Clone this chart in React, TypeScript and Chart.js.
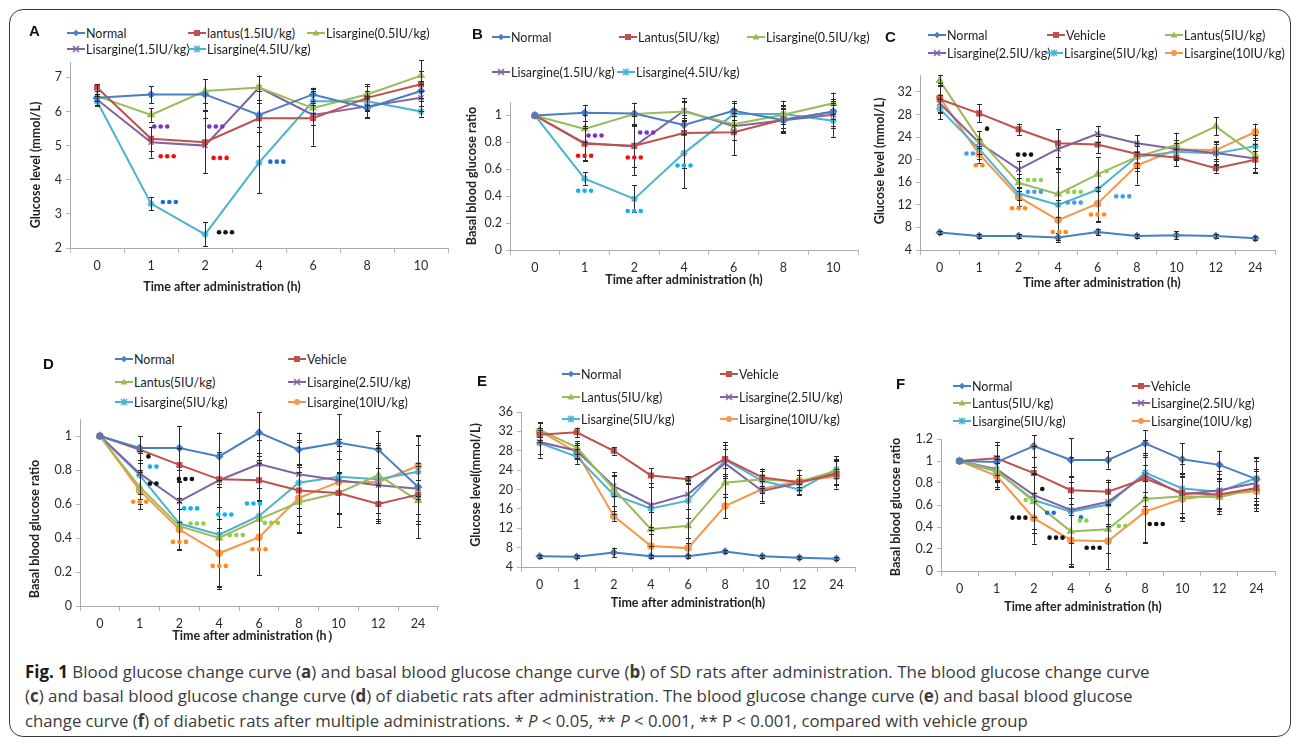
import React, { useEffect, useLayoutEffect, useRef } from 'react';
import { Chart, registerables } from 'chart.js';

Chart.register(...registerables);
Chart.defaults.font.family = 'Lato, "Open Sans", sans-serif';

// ---------- categories & ticks ----------
const CAT_SD = ['0', '1', '2', '4', '6', '8', '10'];
const CAT_DM = ['0', '1', '2', '4', '6', '8', '10', '12', '24'];
const TICKS_A = [2, 3, 4, 5, 6, 7];
const TICKS_RATIO = [0, 0.2, 0.4, 0.6, 0.8, 1];
const TICKS_C = [4, 8, 12, 16, 20, 24, 28, 32];
const TICKS_E = [4, 8, 12, 16, 20, 24, 28, 32, 36];
const TICKS_F = [0, 0.2, 0.4, 0.6, 0.8, 1, 1.2];

// ---------- Panel A (SD rats, glucose) ----------
const A_NAMES = ['Normal', 'lantus(1.5IU/kg)', 'Lisargine(0.5IU/kg)', 'Lisargine(1.5IU/kg)', 'Lisargine(4.5IU/kg)'];
const A_NORMAL = [6.4, 6.5, 6.5, 5.9, 6.5, 6.1, 6.6];
const A_LANTUS = [6.7, 5.2, 5.1, 5.8, 5.8, 6.4, 6.8];
const A_L05 = [6.45, 5.9, 6.6, 6.7, 6.1, 6.5, 7.05];
const A_L15 = [6.35, 5.1, 5.0, 6.7, 5.9, 6.15, 6.4];
const A_L45 = [6.3, 3.3, 2.4, 4.5, 6.3, 6.3, 6.0];
const A_NORMAL_ERR = [0.2, 0.25, 0.45, 0.35, 0.2, 0.3, 0.3];
const A_LANTUS_ERR = [0.1, 0.35, 0.9, 0.8, 0.8, 0.35, 0.4];
const A_L05_ERR = [0.15, 0.2, 0.35, 0.35, 0.15, 0.3, 0.45];
const A_L15_ERR = [0.15, 0.45, 0.8, 0.35, 0.3, 0.3, 0.4];
const A_L45_ERR = [0.15, 0.2, 0.35, 0.9, 0.35, 0.3, 0.15];

// ---------- Panel B (SD rats, ratio) ----------
const B_NAMES = ['Normal', 'Lantus(5IU/kg)', 'Lisargine(0.5IU/kg)', 'Lisargine(1.5IU/kg)', 'Lisargine(4.5IU/kg)'];
const B_NORMAL = [1.0, 1.02, 1.015, 0.93, 1.035, 0.965, 1.03];
const B_LANTUS = [1.0, 0.79, 0.775, 0.87, 0.875, 0.97, 1.025];
const B_L05 = [1.0, 0.9, 1.01, 1.03, 0.935, 1.005, 1.09];
const B_L15 = [1.0, 0.795, 0.77, 1.035, 0.92, 0.965, 1.005];
const B_L45 = [1.0, 0.53, 0.38, 0.72, 1.01, 1.01, 0.96];
const B_NORMAL_ERR = [0, 0.06, 0.08, 0.07, 0.07, 0.08, 0.06];
const B_LANTUS_ERR = [0, 0.12, 0.22, 0.26, 0.17, 0.1, 0.1];
const B_L05_ERR = [0, 0.1, 0.08, 0.07, 0.06, 0.07, 0.08];
const B_L15_ERR = [0, 0.13, 0.15, 0.07, 0.1, 0.09, 0.1];
const B_L45_ERR = [0, 0.05, 0.1, 0.26, 0.08, 0.1, 0.12];

// ---------- diabetic groups ----------
const DM_NAMES = ['Normal', 'Vehicle', 'Lantus(5IU/kg)', 'Lisargine(2.5IU/kg)', 'Lisargine(5IU/kg)', 'Lisargine(10IU/kg)'];

// Panel C
const C_NORMAL = [7.1, 6.5, 6.5, 6.2, 7.2, 6.5, 6.6, 6.5, 6.1];
const C_VEHICLE = [30.7, 28.2, 25.4, 22.9, 22.7, 21.0, 20.4, 18.5, 20.0];
const C_LANTUS = [34.0, 23.6, 15.9, 13.9, 17.4, 20.5, 22.6, 25.9, 20.8];
const C_L25 = [30.0, 23.0, 18.3, 21.9, 24.6, 22.9, 21.9, 21.2, 20.2];
const C_L5 = [29.0, 21.9, 14.0, 12.0, 14.7, 20.5, 21.4, 21.1, 22.4];
const C_L10 = [31.0, 21.0, 13.4, 9.3, 12.2, 19.0, 21.8, 21.7, 24.9];
const C_NORMAL_ERR = [0.3, 0.3, 0.3, 0.8, 0.6, 0.3, 0.7, 0.3, 0.3];
const C_VEHICLE_ERR = [2.5, 1.6, 1.0, 2.5, 1.5, 1.5, 1.5, 0.8, 1.5];
const C_LANTUS_ERR = [1.0, 1.5, 1.5, 4.0, 3.0, 2.0, 2.2, 1.6, 3.0];
const C_L25_ERR = [1.5, 2.0, 1.5, 3.5, 1.4, 1.5, 1.5, 1.5, 2.5];
const C_L5_ERR = [1.8, 1.8, 1.2, 6.5, 5.7, 2.5, 1.5, 2.0, 2.0];
const C_L10_ERR = [2.5, 1.5, 1.6, 3.5, 3.0, 3.4, 1.6, 1.6, 1.5];

// Panel D
const D_NORMAL = [1.0, 0.93, 0.93, 0.88, 1.02, 0.92, 0.96, 0.92, 0.7];
const D_VEHICLE = [1.0, 0.92, 0.83, 0.745, 0.74, 0.68, 0.665, 0.6, 0.655];
const D_LANTUS = [1.0, 0.7, 0.47, 0.4, 0.51, 0.61, 0.665, 0.77, 0.62];
const D_L25 = [1.0, 0.78, 0.615, 0.74, 0.835, 0.775, 0.74, 0.71, 0.69];
const D_L5 = [1.0, 0.77, 0.485, 0.42, 0.53, 0.725, 0.76, 0.745, 0.79];
const D_L10 = [1.0, 0.68, 0.45, 0.31, 0.405, 0.635, 0.73, 0.73, 0.825];
const D_NORMAL_ERR = [0, 0.07, 0.13, 0.14, 0.12, 0.1, 0.17, 0.11, 0.3];
const D_VEHICLE_ERR = [0, 0.08, 0.1, 0.16, 0.12, 0.15, 0.2, 0.11, 0.17];
const D_LANTUS_ERR = [0, 0.1, 0.14, 0.3, 0.33, 0.18, 0.12, 0.26, 0.12];
const D_L25_ERR = [0, 0.12, 0.12, 0.28, 0.14, 0.2, 0.2, 0.22, 0.15];
const D_L5_ERR = [0, 0.14, 0.15, 0.3, 0.35, 0.24, 0.22, 0.2, 0.16];
const D_L10_ERR = [0, 0.11, 0.12, 0.2, 0.22, 0.2, 0.18, 0.23, 0.18];

// Panel E
const E_NORMAL = [6.2, 6.1, 7.0, 6.2, 6.2, 7.2, 6.2, 5.9, 5.7];
const E_VEHICLE = [31.3, 31.8, 28.0, 22.9, 22.1, 26.3, 22.5, 21.5, 23.2];
const E_LANTUS = [32.3, 28.7, 20.1, 11.8, 12.5, 21.4, 22.1, 21.6, 23.9];
const E_L25 = [29.8, 28.0, 20.7, 16.8, 19.0, 25.4, 19.7, 21.4, 23.4];
const E_L5 = [29.6, 26.8, 18.9, 16.1, 17.7, 26.1, 21.8, 20.0, 24.2];
const E_L10 = [32.1, 27.7, 14.5, 8.35, 7.9, 16.6, 20.1, 21.8, 22.7];
const E_NORMAL_ERR = [0.3, 0.3, 1.0, 0.3, 0.3, 0.3, 0.3, 0.3, 0.3];
const E_VEHICLE_ERR = [1.5, 1.0, 0.8, 1.5, 0.7, 3.5, 1.8, 1.5, 3.0];
const E_LANTUS_ERR = [1.5, 1.3, 3.5, 3.5, 3.5, 3.0, 1.8, 2.5, 3.0];
const E_L25_ERR = [2.5, 1.5, 2.0, 4.5, 3.0, 3.0, 2.0, 1.5, 2.5];
const E_L5_ERR = [3.0, 1.5, 4.0, 4.5, 3.5, 3.0, 2.5, 1.2, 1.8];
const E_L10_ERR = [1.8, 1.5, 1.0, 2.5, 2.0, 2.5, 2.8, 1.2, 1.5];

// Panel F
const F_NORMAL = [1.0, 0.99, 1.135, 1.01, 1.01, 1.16, 1.015, 0.965, 0.835];
const F_VEHICLE = [1.0, 1.025, 0.89, 0.735, 0.72, 0.84, 0.71, 0.695, 0.755];
const F_LANTUS = [1.0, 0.915, 0.63, 0.36, 0.38, 0.655, 0.68, 0.67, 0.75];
const F_L25 = [1.0, 0.925, 0.69, 0.555, 0.63, 0.87, 0.695, 0.735, 0.8];
const F_L5 = [1.0, 0.905, 0.645, 0.54, 0.605, 0.895, 0.75, 0.72, 0.845];
const F_L10 = [1.0, 0.865, 0.48, 0.28, 0.27, 0.54, 0.655, 0.695, 0.725];
const F_NORMAL_ERR = [0, 0.16, 0.1, 0.2, 0.08, 0.12, 0.15, 0.13, 0.2];
const F_VEHICLE_ERR = [0, 0.15, 0.25, 0.13, 0.11, 0.12, 0.18, 0.12, 0.15];
const F_LANTUS_ERR = [0, 0.1, 0.25, 0.3, 0.22, 0.4, 0.2, 0.15, 0.18];
const F_L25_ERR = [0, 0.12, 0.2, 0.3, 0.2, 0.2, 0.2, 0.17, 0.2];
const F_L5_ERR = [0, 0.14, 0.3, 0.5, 0.2, 0.3, 0.22, 0.16, 0.18];
const F_L10_ERR = [0, 0.12, 0.23, 0.23, 0.25, 0.28, 0.2, 0.15, 0.18];

// ---------- significance marks (category index, value, count, colour key) ----------
const A_MARKS = [
  [1.18, 5.56, 3, 'purple'], [2.2, 5.56, 3, 'purple'], [1.3, 4.69, 3, 'red'], [2.28, 4.64, 3, 'red'],
  [3.33, 4.53, 3, 'blue'], [1.34, 3.35, 3, 'blue'], [2.38, 2.46, 3, 'black'],
];
const B_MARKS = [
  [1.21, 0.851, 3, 'purple'], [2.25, 0.873, 3, 'purple'], [1.0, 0.7, 3, 'red'], [2.0, 0.687, 3, 'red'],
  [3.0, 0.628, 3, 'cyan'], [1.0, 0.44, 3, 'cyan'], [2.0, 0.29, 3, 'cyan'],
];
const C_MARKS = [
  [0.76, 21.1, 2, 'lblue'], [1.2, 25.5, 1, 'black'], [1.0, 19.0, 2, 'orange'], [2.15, 20.9, 3, 'black'],
  [2.4, 16.4, 3, 'green'], [2.4, 14.3, 3, 'lblue'], [2.0, 11.4, 3, 'orange'], [3.41, 14.3, 3, 'green'],
  [3.41, 12.4, 3, 'lblue'], [3.03, 7.2, 3, 'orange'], [4.23, 18.0, 1, 'green'], [4.0, 10.3, 3, 'orange'],
  [4.64, 13.5, 3, 'lblue'],
];
const D_MARKS = [
  [1.22, 0.88, 1, 'black'], [1.34, 0.82, 2, 'cyan'], [1.34, 0.72, 2, 'black'], [1.0, 0.613, 3, 'orange'],
  [2.15, 0.747, 3, 'black'], [2.28, 0.574, 3, 'cyan'], [2.44, 0.485, 3, 'green'], [2.0, 0.377, 3, 'orange'],
  [3.14, 0.538, 3, 'cyan'], [3.43, 0.417, 3, 'green'], [3.0, 0.236, 3, 'orange'], [3.86, 0.603, 3, 'cyan'],
  [4.31, 0.489, 3, 'green'], [4.0, 0.334, 3, 'orange'],
];
const F_MARKS = [
  [2.23, 0.745, 1, 'black'], [1.87, 0.645, 2, 'green'], [1.6, 0.485, 3, 'black'], [2.45, 0.53, 2, 'blue'],
  [2.6, 0.303, 3, 'black'], [3.27, 0.488, 1, 'blue'], [3.33, 0.458, 2, 'green'], [3.6, 0.212, 3, 'black'],
  [4.38, 0.409, 2, 'green'], [5.3, 0.427, 3, 'black'],
];

// ---------- styles ----------
const MARK_COLORS: Record<string, string> = {
  purple: '#7a35b8', red: '#ee1111', blue: '#1a6fd0', black: '#111111', cyan: '#12b0f0',
  lblue: '#4a9be8', orange: '#ff8a1e', green: '#8fd04a',
};
const SERIES_STYLE: Record<string, { color: string; point: string; r: number }> = {
  normal: { color: '#4a7ec2', point: 'rectRot', r: 3.2 },
  red: { color: '#c0504d', point: 'rect', r: 3.2 },
  green: { color: '#9bbb59', point: 'triangle', r: 3.4 },
  purple: { color: '#8064a2', point: 'crossRot', r: 3.5 },
  cyan: { color: '#4bb3cf', point: 'star', r: 3.5 },
  orange: { color: '#f79646', point: 'circle', r: 3 },
};
const KEYS_SD = ['normal', 'red', 'green', 'purple', 'cyan'];
const KEYS_DM = ['normal', 'red', 'green', 'purple', 'cyan', 'orange'];

type Panel = {
  letter: string; letterPos: [number, number];
  plot: { l: number; t: number; r: number; b: number };
  labels: string[]; names: string[]; keys: string[];
  data: number[][]; errs: number[][];
  yMin: number; yMax: number; yTicks: number[];
  xTitle: string; yTitle: string; xTitlePos: [number, number]; yTitlePos: [number, number];
  marks: any[];
  legend: { y: number; items: [number, number][] }[];
};

const PANELS: Panel[] = [
  {
    letter: 'A', letterPos: [29, 32], plot: { l: 70, t: 62, r: 448, b: 248 },
    labels: CAT_SD, names: A_NAMES, keys: KEYS_SD,
    data: [A_NORMAL, A_LANTUS, A_L05, A_L15, A_L45],
    errs: [A_NORMAL_ERR, A_LANTUS_ERR, A_L05_ERR, A_L15_ERR, A_L45_ERR],
    yMin: 2, yMax: 7.45, yTicks: TICKS_A,
    xTitle: 'Time after administration (h)', yTitle: 'Glucose level (mmol/L)',
    xTitlePos: [222, 287], yTitlePos: [36, 165], marks: A_MARKS,
    legend: [{ y: 33, items: [[67, 0], [188, 1], [307, 2]] }, { y: 49, items: [[67, 3], [188, 4]] }],
  },
  {
    letter: 'B', letterPos: [472, 35], plot: { l: 510, t: 102, r: 858, b: 250 },
    labels: CAT_SD, names: B_NAMES, keys: KEYS_SD,
    data: [B_NORMAL, B_LANTUS, B_L05, B_L15, B_L45],
    errs: [B_NORMAL_ERR, B_LANTUS_ERR, B_L05_ERR, B_L15_ERR, B_L45_ERR],
    yMin: 0, yMax: 1.1, yTicks: TICKS_RATIO,
    xTitle: 'Time after administration (h)', yTitle: 'Basal blood glucose ratio',
    xTitlePos: [684, 280], yTitlePos: [472, 176], marks: B_MARKS,
    legend: [{ y: 37, items: [[492, 0], [619, 1], [747, 2]] }, { y: 72, items: [[492, 3], [617, 4]] }],
  },
  {
    letter: 'C', letterPos: [885, 38], plot: { l: 920, t: 75, r: 1275, b: 250 },
    labels: CAT_DM, names: DM_NAMES, keys: KEYS_DM,
    data: [C_NORMAL, C_VEHICLE, C_LANTUS, C_L25, C_L5, C_L10],
    errs: [C_NORMAL_ERR, C_VEHICLE_ERR, C_LANTUS_ERR, C_L25_ERR, C_L5_ERR, C_L10_ERR],
    yMin: 4, yMax: 35, yTicks: TICKS_C,
    xTitle: 'Time after administration (h)', yTitle: 'Glucose level (mmol/L)',
    xTitlePos: [1102, 283], yTitlePos: [880, 161], marks: C_MARKS,
    legend: [{ y: 35, items: [[928, 0], [1047, 1], [1165, 2]] }, { y: 53, items: [[928, 3], [1045, 4], [1165, 5]] }],
  },
  {
    letter: 'D', letterPos: [43, 365], plot: { l: 80, t: 419, r: 438, b: 606 },
    labels: CAT_DM, names: DM_NAMES, keys: KEYS_DM,
    data: [D_NORMAL, D_VEHICLE, D_LANTUS, D_L25, D_L5, D_L10],
    errs: [D_NORMAL_ERR, D_VEHICLE_ERR, D_LANTUS_ERR, D_L25_ERR, D_L5_ERR, D_L10_ERR],
    yMin: 0, yMax: 1.1, yTicks: TICKS_RATIO,
    xTitle: 'Time after administration (h\uFF09', yTitle: 'Basal blood glucose ratio',
    xTitlePos: [256, 636], yTitlePos: [35, 529], marks: D_MARKS,
    legend: [
      { y: 359, items: [[115, 0], [288, 1]] }, { y: 382, items: [[115, 2], [288, 3]] },
      { y: 402, items: [[115, 4], [288, 5]] },
    ],
  },
  {
    letter: 'E', letterPos: [477, 382], plot: { l: 521, t: 412, r: 855, b: 567 },
    labels: CAT_DM, names: DM_NAMES, keys: KEYS_DM,
    data: [E_NORMAL, E_VEHICLE, E_LANTUS, E_L25, E_L5, E_L10],
    errs: [E_NORMAL_ERR, E_VEHICLE_ERR, E_LANTUS_ERR, E_L25_ERR, E_L5_ERR, E_L10_ERR],
    yMin: 4, yMax: 36, yTicks: TICKS_E,
    xTitle: 'Time after administration(h)', yTitle: 'Glucose level(mmol/L)',
    xTitlePos: [688, 603], yTitlePos: [476, 485], marks: [],
    legend: [
      { y: 374, items: [[562, 0], [720, 1]] }, { y: 397, items: [[562, 2], [720, 3]] },
      { y: 419, items: [[562, 4], [720, 5]] },
    ],
  },
  {
    letter: 'F', letterPos: [896, 385], plot: { l: 941, t: 439, r: 1275, b: 571 },
    labels: CAT_DM, names: DM_NAMES, keys: KEYS_DM,
    data: [F_NORMAL, F_VEHICLE, F_LANTUS, F_L25, F_L5, F_L10],
    errs: [F_NORMAL_ERR, F_VEHICLE_ERR, F_LANTUS_ERR, F_L25_ERR, F_L5_ERR, F_L10_ERR],
    yMin: 0, yMax: 1.2, yTicks: TICKS_F,
    xTitle: 'Time after administration (h)', yTitle: 'Basal blood glucose ratio',
    xTitlePos: [1083, 607], yTitlePos: [896, 507], marks: F_MARKS,
    legend: [
      { y: 386, items: [[953, 0], [1132, 1]] }, { y: 403, items: [[953, 2], [1132, 3]] },
      { y: 421, items: [[953, 4], [1132, 5]] },
    ],
  },
];

// ---------- plugins ----------
const errorBarPlugin = {
  id: 'errorBars',
  afterDatasetsDraw(chart: any) {
    const { ctx } = chart;
    const ys = chart.scales.y;
    ctx.save();
    ctx.strokeStyle = '#2a2a2a';
    ctx.lineWidth = 1;
    chart.data.datasets.forEach((ds: any, di: number) => {
      const err = ds.errorBars;
      if (!err) return;
      const meta = chart.getDatasetMeta(di);
      meta.data.forEach((pt: any, i: number) => {
        const e = err[i];
        if (!e) return;
        const v = ds.data[i];
        const x = Math.round(pt.x) + 0.5;
        const y1 = ys.getPixelForValue(v + e);
        const y2 = ys.getPixelForValue(v - e);
        ctx.beginPath();
        ctx.moveTo(x, y1); ctx.lineTo(x, y2);
        ctx.moveTo(x - 2.5, Math.round(y1) + 0.5); ctx.lineTo(x + 2.5, Math.round(y1) + 0.5);
        ctx.moveTo(x - 2.5, Math.round(y2) + 0.5); ctx.lineTo(x + 2.5, Math.round(y2) + 0.5);
        ctx.stroke();
      });
    });
    ctx.restore();
  },
};

const marksPlugin = {
  id: 'sigMarks',
  afterDatasetsDraw(chart: any, _args: any, opts: any) {
    const { ctx } = chart;
    const xs = chart.scales.x, ys = chart.scales.y;
    ctx.save();
    (opts.items || []).forEach((m: any[]) => {
      const [i, v, n, c] = m;
      const cx = xs.getPixelForValue(i);
      const cy = ys.getPixelForValue(v);
      ctx.fillStyle = MARK_COLORS[c];
      for (let k = 0; k < n; k++) {
        ctx.beginPath();
        ctx.arc(cx + (k - (n - 1) / 2) * 6.5, cy, 2.3, 0, Math.PI * 2);
        ctx.fill();
      }
    });
    ctx.restore();
  },
};

const titlesPlugin = {
  id: 'axisTitles',
  afterDraw(chart: any, _args: any, opts: any) {
    const { ctx } = chart;
    ctx.save();
    ctx.font = 'bold 12.5px Lato, "Open Sans", sans-serif';
    ctx.fillStyle = '#222';
    ctx.textAlign = 'center';
    ctx.textBaseline = 'middle';
    ctx.fillText(opts.x, opts.xPos[0], opts.xPos[1]);
    ctx.translate(opts.yPos[0], opts.yPos[1]);
    ctx.rotate(-Math.PI / 2);
    ctx.fillText(opts.y, 0, 0);
    ctx.restore();
  },
};

// ---------- components ----------
function ChartPanel({ p }: { p: Panel }) {
  const ref = useRef<HTMLCanvasElement>(null);
  const left = p.plot.l - 60, top = p.plot.t - 14;
  const width = p.plot.r + 6 - left, height = p.plot.b + 52 - top;
  useEffect(() => {
    const datasets = p.data.map((d, i) => {
      const st = SERIES_STYLE[p.keys[i]];
      return {
        label: p.names[i], data: d, errorBars: p.errs[i],
        borderColor: st.color, backgroundColor: st.color, borderWidth: 2,
        pointStyle: st.point, pointRadius: st.r, pointBorderWidth: 1.5,
        pointBorderColor: st.color, pointBackgroundColor: st.color, tension: 0,
      };
    });
    const chart = new Chart(ref.current!, {
      type: 'line',
      data: { labels: p.labels, datasets: datasets as any },
      plugins: [errorBarPlugin, marksPlugin, titlesPlugin],
      options: {
        responsive: false, animation: false, events: [],
        layout: { padding: { left: 0, top: 14, right: 6, bottom: 0 } },
        scales: {
          x: {
            type: 'category', offset: true,
            grid: { display: true, drawOnChartArea: false, drawTicks: true, tickLength: 5, color: '#b5b5b5', offset: true },
            border: { display: true, color: '#aaaaaa', width: 1 },
            ticks: { color: '#2b2b2b', font: { size: 12.5 }, padding: 5, maxRotation: 0, autoSkip: false },
            afterFit: (s: any) => { s.height = 52; },
          },
          y: {
            min: p.yMin, max: p.yMax,
            grid: { display: true, drawOnChartArea: false, drawTicks: true, tickLength: 4, color: '#b5b5b5' },
            border: { display: true, color: '#aaaaaa', width: 1 },
            ticks: { color: '#2b2b2b', font: { size: 12.5 }, padding: 4, callback: (v: any) => String(v) },
            afterBuildTicks: (s: any) => { s.ticks = p.yTicks.map((v) => ({ value: v })); },
            afterFit: (s: any) => { s.width = 60; },
          },
        },
        plugins: {
          legend: { display: false }, tooltip: { enabled: false },
          sigMarks: { items: p.marks },
          axisTitles: {
            x: p.xTitle, y: p.yTitle,
            xPos: [p.xTitlePos[0] - left, p.xTitlePos[1] - top],
            yPos: [p.yTitlePos[0] - left, p.yTitlePos[1] - top],
          },
        } as any,
      },
    });
    return () => chart.destroy();
  }, []);
  return (
    <canvas ref={ref} width={width} height={height}
      style={{ position: 'absolute', left, top, width, height }} />
  );
}

function Marker({ kind, color }: { kind: string; color: string }) {
  const c = 9, m = 5;
  let shape: any = null;
  if (kind === 'rectRot') shape = <polygon points={`${c},${m - 3.2} ${c + 3.2},${m} ${c},${m + 3.2} ${c - 3.2},${m}`} fill={color} />;
  else if (kind === 'rect') shape = <rect x={c - 3} y={m - 3} width={6} height={6} fill={color} />;
  else if (kind === 'triangle') shape = <polygon points={`${c},${m - 3.4} ${c + 3.4},${m + 2.6} ${c - 3.4},${m + 2.6}`} fill={color} />;
  else if (kind === 'crossRot') shape = <path d={`M${c - 3} ${m - 3}L${c + 3} ${m + 3}M${c - 3} ${m + 3}L${c + 3} ${m - 3}`} stroke={color} strokeWidth={1.5} />;
  else if (kind === 'star') shape = <path d={`M${c - 3} ${m - 3}L${c + 3} ${m + 3}M${c - 3} ${m + 3}L${c + 3} ${m - 3}M${c} ${m - 3.5}L${c} ${m + 3.5}`} stroke={color} strokeWidth={1.5} />;
  else shape = <circle cx={c} cy={m} r={3} fill={color} />;
  return (
    <svg width={18} height={10} style={{ display: 'block', flex: 'none' }}>
      <line x1={0} y1={m} x2={18} y2={m} stroke={color} strokeWidth={2} />
      {shape}
    </svg>
  );
}

function Legend({ p }: { p: Panel }) {
  return (
    <>
      {p.legend.map((row, ri) =>
        row.items.map(([x, si]) => {
          const st = SERIES_STYLE[p.keys[si]];
          return (
            <div key={`${ri}-${si}`} style={{
              position: 'absolute', left: x, top: row.y - 8, height: 16, display: 'flex',
              alignItems: 'center', whiteSpace: 'nowrap', font: '12.5px Lato, "Open Sans", sans-serif', color: '#1e1e1e',
            }}>
              <Marker kind={st.point} color={st.color} />
              <span style={{ marginLeft: 1 }}>{p.names[si]}</span>
            </div>
          );
        })
      )}
      <div style={{
        position: 'absolute', left: p.letterPos[0], top: p.letterPos[1] - 10, height: 20, lineHeight: '20px',
        font: 'bold 15px "Liberation Sans", Arial, sans-serif', color: '#111',
      }}>{p.letter}</div>
    </>
  );
}

const CAPTION_WIDTHS = [1125, 1108, 1003];
const CAPTION_Y = [671, 695, 720];

function Caption() {
  const r0 = useRef<HTMLSpanElement>(null);
  const r1 = useRef<HTMLSpanElement>(null);
  const r2 = useRef<HTMLSpanElement>(null);
  const refs = [r0, r1, r2];
  useLayoutEffect(() => {
    const fit = () => refs.forEach((r, i) => {
      const el = r.current;
      if (!el) return;
      const w = el.offsetWidth;
      if (w > 0) el.style.transform = `scaleX(${CAPTION_WIDTHS[i] / w})`;
    });
    fit();
    (document as any).fonts?.ready?.then(fit);
  }, []);
  const lineStyle = (i: number): React.CSSProperties => ({
    position: 'absolute', left: 25, top: CAPTION_Y[i] - 11, height: 22, lineHeight: '22px',
    whiteSpace: 'nowrap', display: 'inline-block', transformOrigin: '0 50%',
    font: '17px "Open Sans", "Noto Sans", sans-serif', color: '#3a3a3a',
  });
  return (
    <>
      <span ref={r0} style={lineStyle(0)}>
        <b style={{ color: '#1a1a1a' }}>Fig. 1</b> Blood glucose change curve (<b>a</b>) and basal blood glucose change curve (<b>b</b>) of SD rats after administration. The blood glucose change curve
      </span>
      <span ref={r1} style={lineStyle(1)}>
        (<b>c</b>) and basal blood glucose change curve (<b>d</b>) of diabetic rats after administration. The blood glucose change curve (<b>e</b>) and basal blood glucose
      </span>
      <span ref={r2} style={lineStyle(2)}>
        change curve (<b>f</b>) of diabetic rats after multiple administrations. * <i>P</i> &lt; 0.05, ** <i>P</i> &lt; 0.001, ** P &lt; 0.001, compared with vehicle group
      </span>
    </>
  );
}

export default function App() {
  return (
    <div style={{ position: 'absolute', left: 0, top: 0, width: 1292, height: 743, background: '#fff', overflow: 'hidden' }}>
      <div style={{
        position: 'absolute', left: 9, top: 9, width: 1282, height: 728, boxSizing: 'border-box',
        border: '1.3px solid #3a3a3a', borderRadius: 14,
      }} />
      {PANELS.map((p) => <ChartPanel key={p.letter} p={p} />)}
      {PANELS.map((p) => <Legend key={'l' + p.letter} p={p} />)}
      <Caption />
    </div>
  );
}
